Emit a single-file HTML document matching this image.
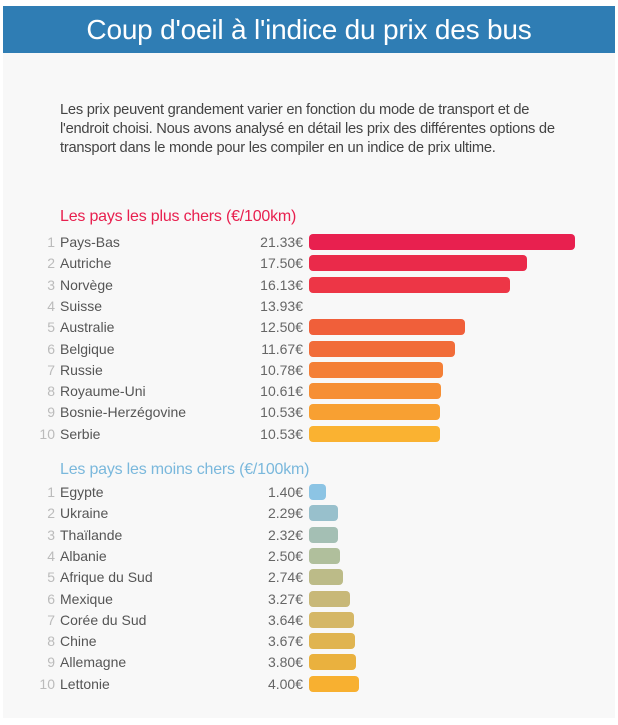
<!DOCTYPE html>
<html><head><meta charset="utf-8"><style>
*{margin:0;padding:0;box-sizing:border-box}
body{width:618px;height:725px;background:#fff;font-family:"Liberation Sans",sans-serif;position:relative;overflow:hidden}
.panel{position:absolute;left:3px;top:6px;width:612px;height:712px;background:#f8f8f8}
.hdr{position:absolute;left:3px;top:6px;width:612px;height:47px;background:#2f7db4;color:#fff;font-size:28px;text-align:center;line-height:47px;letter-spacing:-0.2px}
.p{position:absolute;left:60px;top:101px;font-size:14.7px;line-height:19px;color:#444;letter-spacing:-0.25px;white-space:nowrap}
.h{position:absolute;left:60px;font-size:16px;letter-spacing:-0.2px}
.r{position:absolute;left:0;height:18px;width:618px;font-size:14px;color:#555;line-height:18px}
.r .n{position:absolute;right:563px;color:#bbb}
.r .c{position:absolute;left:60px}
.r .v{position:absolute;right:315px;color:#666}
.r .b{position:absolute;left:309px;top:1px;height:16px;border-radius:4px}
</style></head><body>
<div class="panel"></div>
<div class="hdr">Coup d'oeil à l'indice du prix des bus</div>
<div class="p">Les prix peuvent grandement varier en fonction du mode de transport et de<br>l'endroit choisi. Nous avons analysé en détail les prix des différentes options de<br>transport dans le monde pour les compiler en un indice de prix ultime.</div>
<div class="h" style="top:208px;color:#e8204f">Les pays les plus chers (€/100km)</div>
<div class="h" style="top:461px;color:#7ab8dc">Les pays les moins chers (€/100km)</div>
<div id="rows"></div>
<script>
(function(){
var listA=[["Pays-Bas",21.33,"#e8204f"],["Autriche",17.5,"#ea2a4a"],["Norvège",16.13,"#ed3646"],["Suisse",13.93,null],["Australie",12.5,"#f05f3a"],["Belgique",11.67,"#f16c39"],["Russie",10.78,"#f47f36"],["Royaume-Uni",10.61,"#f68f34"],["Bosnie-Herzégovine",10.53,"#f8a032"],["Serbie",10.53,"#fab231"]];
var listB=[["Egypte",1.4,"#8cc4e4"],["Ukraine",2.29,"#98c0cc"],["Thaïlande",2.32,"#a4bfb4"],["Albanie",2.5,"#b0bf9c"],["Afrique du Sud",2.74,"#bcbb88"],["Mexique",3.27,"#c8b878"],["Corée du Sud",3.64,"#d5b766"],["Chine",3.67,"#e0b450"],["Allemagne",3.8,"#eab13e"],["Lettonie",4.0,"#f8b030"]];
var h="";
function add(list,y0){list.forEach(function(d,i){var y=y0+i*21.3;
h+='<div class="r" style="top:'+(y-9)+'px"><span class="n">'+(i+1)+'</span><span class="c">'+d[0]+'</span><span class="v">'+d[1].toFixed(2)+'€</span>'+(d[2]?'<div class="b" style="width:'+Math.round(d[1]*12.47)+'px;background:'+d[2]+'"></div>':'')+'</div>';});}
add(listA,242);add(listB,492);
document.getElementById("rows").innerHTML=h;
})();
</script>
</body></html>
